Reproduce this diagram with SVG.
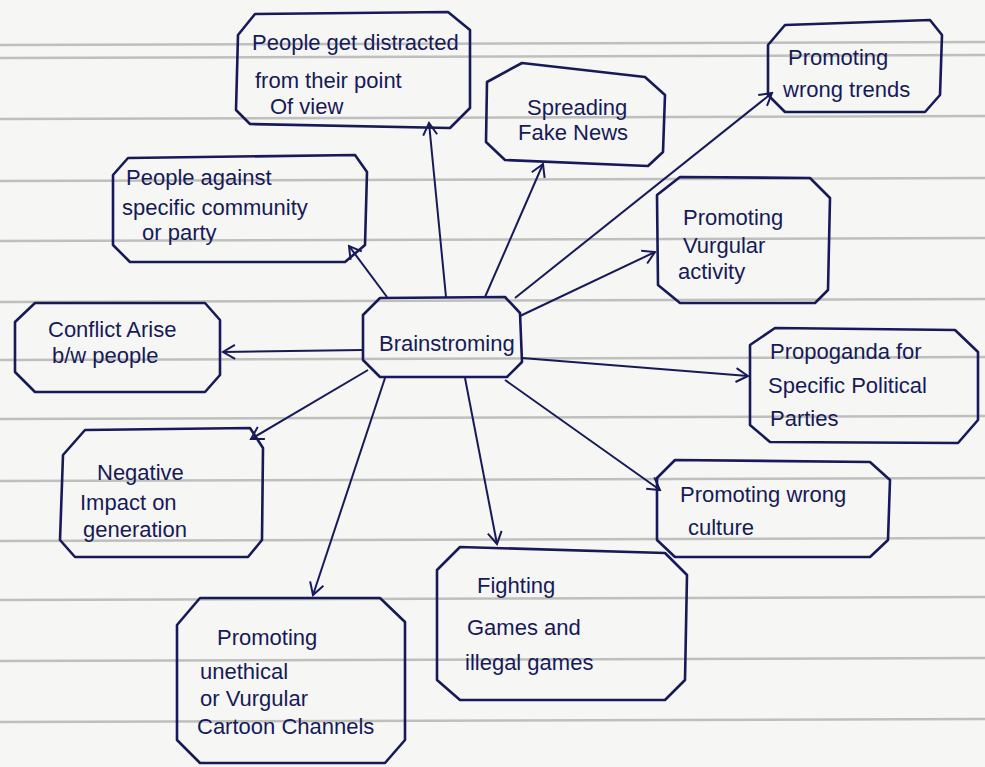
<svg xmlns="http://www.w3.org/2000/svg" width="985" height="767" viewBox="0 0 985 767">
<defs>
<style>
.paper{fill:#f6f6f4}
.rule{stroke:#a8a8a8;stroke-width:2.5;opacity:0.7}
.box{fill:none;stroke:#161a5a;stroke-width:2.6;stroke-linejoin:round}
.t{font-family:"Liberation Sans","DejaVu Sans",sans-serif;font-size:22px;fill:#161a5a}
.c{stroke:#161a5a;stroke-width:2;fill:none;marker-end:url(#arr)}
</style>
<marker id="arr" viewBox="-14 -9 16 18" refX="0" refY="0" markerWidth="16" markerHeight="18" markerUnits="userSpaceOnUse" orient="auto">
<path d="M-12,-7 L0,0 L-12,7" fill="none" stroke="#161a5a" stroke-width="2"/>
</marker>
</defs>
<rect class="paper" x="0" y="0" width="985" height="767"/>
<g id="rules">
<line class="rule" x1="0" y1="45" x2="985" y2="42"/>
<line class="rule" x1="0" y1="58" x2="985" y2="55"/>
<line class="rule" x1="0" y1="119" x2="985" y2="116"/>
<line class="rule" x1="0" y1="181" x2="985" y2="178"/>
<line class="rule" x1="0" y1="241" x2="985" y2="238"/>
<line class="rule" x1="0" y1="302" x2="985" y2="299"/>
<line class="rule" x1="0" y1="360" x2="985" y2="357"/>
<line class="rule" x1="0" y1="419" x2="985" y2="416"/>
<line class="rule" x1="0" y1="481" x2="985" y2="478"/>
<line class="rule" x1="0" y1="541" x2="985" y2="538"/>
<line class="rule" x1="0" y1="600" x2="985" y2="597"/>
<line class="rule" x1="0" y1="661" x2="985" y2="658"/>
<line class="rule" x1="0" y1="722" x2="985" y2="719"/>
</g>
<g id="connectors">
<line class="c" x1="446" y1="297" x2="429" y2="123"/>
<line class="c" x1="485" y1="297" x2="543" y2="164"/>
<line class="c" x1="515" y1="298" x2="772" y2="93"/>
<line class="c" x1="520" y1="316" x2="655" y2="252"/>
<line class="c" x1="387" y1="297" x2="349" y2="246"/>
<line class="c" x1="362" y1="350" x2="223" y2="352"/>
<line class="c" x1="522" y1="358" x2="748" y2="376"/>
<line class="c" x1="368" y1="370" x2="251" y2="439"/>
<line class="c" x1="505" y1="380" x2="660" y2="490"/>
<line class="c" x1="385" y1="378" x2="313" y2="595"/>
<line class="c" x1="465" y1="378" x2="497" y2="544"/>
</g>
<g id="n-center">
<polygon class="box" points="363,315 380,298 505,297 520,313 522,362 507,377 380,377 363,360"/>
<text class="t" x="379" y="351">Brainstroming</text>
</g>
<g id="n-distracted">
<polygon class="box" points="255,14 448,12 470,30 470,108 450,128 250,124 236,110 238,35"/>
<text class="t" x="252" y="50">People get distracted</text>
<text class="t" x="255" y="88">from their point</text>
<text class="t" x="270" y="114">Of view</text>
</g>
<g id="n-fake">
<polygon class="box" points="487,82 522,63 645,77 665,95 663,152 648,166 505,160 486,142"/>
<text class="t" x="527" y="115">Spreading</text>
<text class="t" x="518" y="140">Fake News</text>
</g>
<g id="n-trends">
<polygon class="box" points="768,45 785,25 930,20 942,35 940,95 925,112 785,112 768,95"/>
<text class="t" x="788" y="65">Promoting</text>
<text class="t" x="783" y="97">wrong trends</text>
</g>
<g id="n-against">
<polygon class="box" points="113,175 128,158 355,155 367,172 365,245 345,262 130,262 113,245"/>
<text class="t" x="126" y="185">People against</text>
<text class="t" x="122" y="215">specific community</text>
<text class="t" x="142" y="240">or party</text>
</g>
<g id="n-vurgular">
<polygon class="box" points="657,195 680,177 810,178 830,198 828,290 815,303 680,303 658,285"/>
<text class="t" x="683" y="225">Promoting</text>
<text class="t" x="683" y="253">Vurgular</text>
<text class="t" x="678" y="279">activity</text>
</g>
<g id="n-conflict">
<polygon class="box" points="15,322 35,303 205,303 220,320 220,375 205,392 35,392 15,372"/>
<text class="t" x="48" y="337">Conflict Arise</text>
<text class="t" x="52" y="363">b/w people</text>
</g>
<g id="n-propaganda">
<polygon class="box" points="750,345 775,328 955,330 978,352 978,420 958,443 770,442 750,425"/>
<text class="t" x="770" y="359">Propoganda for</text>
<text class="t" x="768" y="393">Specific Political</text>
<text class="t" x="770" y="426">Parties</text>
</g>
<g id="n-negative">
<polygon class="box" points="85,430 250,428 263,448 262,540 248,557 75,557 60,540 63,455"/>
<text class="t" x="97" y="480">Negative</text>
<text class="t" x="80" y="510">Impact on</text>
<text class="t" x="83" y="537">generation</text>
</g>
<g id="n-culture">
<polygon class="box" points="657,478 675,460 870,462 890,480 888,540 870,557 675,557 657,540"/>
<text class="t" x="680" y="502">Promoting wrong</text>
<text class="t" x="688" y="535">culture</text>
</g>
<g id="n-cartoon">
<polygon class="box" points="177,625 200,598 380,598 405,622 405,740 385,763 200,763 177,740"/>
<text class="t" x="217" y="645">Promoting</text>
<text class="t" x="200" y="679">unethical</text>
<text class="t" x="200" y="706">or Vurgular</text>
<text class="t" x="197" y="734">Cartoon Channels</text>
</g>
<g id="n-fighting">
<polygon class="box" points="437,570 460,547 665,553 687,575 685,680 665,700 460,700 437,680"/>
<text class="t" x="477" y="593">Fighting</text>
<text class="t" x="467" y="635">Games and</text>
<text class="t" x="465" y="670">illegal games</text>
</g>
</svg>
